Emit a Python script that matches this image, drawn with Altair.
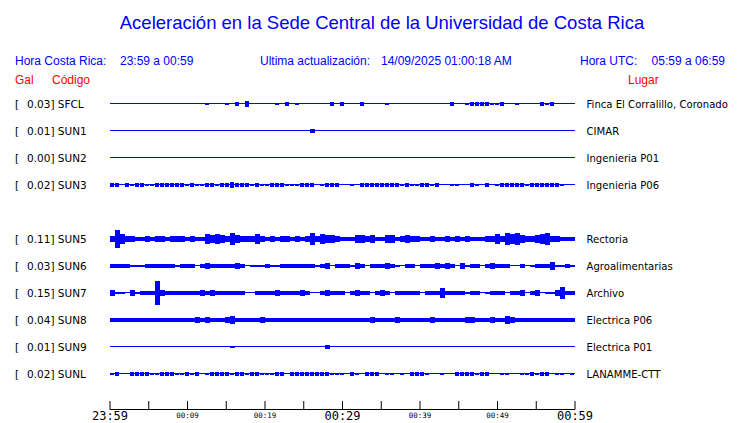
import altair as alt
import pandas as pd

# ---------------- data ----------------
stations = ["SFCL", "SUN1", "SUN2", "SUN3", "SUN5", "SUN6", "SUN7", "SUN8", "SUN9", "SUNL"]
gal = ["0.03", "0.01", "0.00", "0.02", "0.11", "0.03", "0.15", "0.04", "0.01", "0.02"]
places = ["Finca El Corralillo, Coronado", "CIMAR", "Ingenieria P01", "Ingenieria P06",
          "Rectoria", "Agroalimentarias", "Archivo", "Electrica P06", "Electrica P01", "LANAMME-CTT"]
row_index = [0, 1, 2, 3, 5, 6, 7, 8, 9, 10]

# envelope of each trace (93 time bins over 60 minutes), amplitude levels
env_SFCL = ([0,0,0,0,0,0,0,0,0,0, 0,0,0,0,0,0,0,0,0,1, 0,0,0,1,0,2,0,3,0,0, 0] +
            [0,0,1,0,2,0,1,0,0,0, 0,0,0,2,0,2,0,0,0,2, 0,0,0,0,1,0,0,0,0,0, 0] +
            [0,0,0,0,0,0,2,0,0,1, 2,2,2,2,1,1,2,0,0,1, 0,0,0,0,2,1,2,0,0,0, 0])
env_SUN1 = ([0]*31 +
            [0,0,0,0,0,0,0,0,0,2, 0,0,0,0,0,0,0,0,0,0, 0,0,0,0,0,0,0,0,0,0, 0] +
            [0]*31)
env_SUN2 = [0]*93
env_SUN3 = ([2,2,0,2,1,2,2,1,1,2, 2,2,2,2,2,1,2,1,1,2, 2,1,2,2,3,2,2,2,1,2, 1] +
            [1,2,2,2,1,1,1,2,2,2, 0,1,2,2,2,0,0,1,0,2, 2,2,2,2,2,2,2,1,2,1, 1] +
            [2,2,1,2,0,0,1,1,0,0, 2,1,0,2,0,1,2,2,2,2, 2,1,2,2,2,2,2,2,1,0, 0])
env_SUN5 = ([3,9,5,3,3,2,2,3,2,3, 3,2,3,3,3,2,3,2,2,5, 4,5,4,3,6,4,3,3,3,5, 3] +
            [2,3,2,3,3,2,3,2,3,6, 3,5,4,4,3,2,2,2,4,4, 3,4,2,2,4,4,2,3,4,3, 3] +
            [2,2,3,2,2,3,2,3,2,3, 2,2,2,3,3,5,3,6,5,6, 4,3,3,4,5,6,3,3,2,2, 2])
env_SUN6 = ([2,2,2,2,1,1,1,2,2,2, 2,2,2,1,2,2,2,0,2,3, 2,2,2,2,2,3,2,0,1,1, 1] +
            [2,1,1,2,2,2,2,2,2,2, 1,2,3,0,2,2,2,1,3,2, 0,2,2,2,3,2,1,0,2,2, 0] +
            [2,2,2,3,2,3,2,0,3,1, 2,2,0,2,3,2,2,2,0,0, 2,0,1,2,2,2,4,1,1,2, 1])
env_SUN7 = ([3,1,1,0,3,1,2,2,2,12, 3,2,2,2,2,2,2,2,3,2, 3,2,2,2,2,2,2,0,0,2, 2] +
            [2,2,3,2,2,2,2,3,2,0, 0,2,3,2,2,2,0,2,3,2, 2,0,2,3,2,0,2,2,2,2, 2] +
            [0,2,2,2,5,2,2,2,2,1, 2,2,0,1,2,2,2,0,2,2, 3,0,2,3,0,1,1,3,6,2, 2])
env_SUN8 = ([2,2,2,2,2,2,2,2,2,2, 2,2,2,2,2,2,2,3,2,3, 2,2,2,3,4,2,2,2,2,2, 3] +
            [2,2,2,2,2,2,2,2,2,2, 2,2,2,2,2,2,2,2,2,2, 2,3,2,2,2,2,3,2,2,2, 2] +
            [2,2,3,2,2,2,2,2,2,3, 3,2,2,2,3,2,2,4,3,2, 2,2,2,2,2,2,2,2,2,2, 2])
env_SUN9 = ([0,0,0,0,0,0,0,0,0,0, 0,0,0,0,0,0,0,0,0,0, 0,0,0,0,1,0,0,0,0,0, 0] +
            [0,0,0,0,0,0,0,0,0,0, 0,0,2,0,0,0,0,0,0,0, 0,0,0,0,0,0,0,0,0,0, 0] +
            [0]*31)
env_SUNL = ([1,2,0,0,2,2,2,2,1,1, 2,2,2,1,1,2,1,2,0,1, 2,2,2,2,1,2,2,1,2,2, 1] +
            [1,1,2,2,0,2,2,2,2,2, 2,2,2,1,1,1,0,2,1,0, 2,2,2,0,1,1,0,1,0,2, 2] +
            [2,1,0,0,1,0,0,2,2,2, 2,1,2,2,0,0,1,1,0,0, 1,1,2,1,2,2,0,1,1,0, 1])
envelopes = [env_SFCL, env_SUN1, env_SUN2, env_SUN3, env_SUN5,
             env_SUN6, env_SUN7, env_SUN8, env_SUN9, env_SUNL]

tick_minutes = [0, 5, 10, 15, 20, 25, 30, 35, 40, 45, 50, 55, 60]
major_minutes = [0, 30, 60]
major_labels = ["23:59", "00:29", "00:59"]
minor_minutes = [10, 20, 40, 50]
minor_labels = ["00:09", "00:19", "00:39", "00:49"]

# ---------------- layout / style ----------------
N_BINS = 93
SPAN_MIN = 60
ROW_GAP = 27
BLUE = "#0000ff"
RED = "#ff0000"
# fraction of each time bin that a burst block fills
fill_fraction = [0.8, 1.0, 1.0, 0.8, 1.0, 1.0, 1.0, 1.0, 1.0, 0.8]

xs = alt.Scale(domain=[0, SPAN_MIN], range=[102, 567], nice=False, zero=False)
ys = alt.Scale(domain=[0, 10 * ROW_GAP], range=[95.5, 365.5], nice=False, zero=False)

bins = []
bin_min = SPAN_MIN / N_BINS
for st, r, env, ff in zip(stations, row_index, envelopes, fill_fraction):
    assert len(env) == N_BINS
    for i, a in enumerate(env):
        if a > 0:
            bins.append({"station": st,
                         "t0": i * bin_min,
                         "t1": (i + ff) * bin_min,
                         "lo": r * ROW_GAP - a + 0.5,
                         "hi": r * ROW_GAP + a + 0.5})
bins_df = pd.DataFrame(bins)

rows_df = pd.DataFrame({
    "station": stations,
    "pos": [r * ROW_GAP for r in row_index],
    "left": [f"{g}] {s}" for g, s in zip(gal, stations)],
    "place": places,
    "t0": [0] * len(stations),
    "t1": [SPAN_MIN] * len(stations),
})

baselines = alt.Chart(rows_df).mark_rule(color=BLUE, strokeWidth=1).encode(
    x=alt.X("t0:Q", scale=xs, axis=None),
    x2="t1:Q",
    y=alt.Y("pos:Q", scale=ys, axis=None),
)

traces = alt.Chart(bins_df).mark_rect(color=BLUE).encode(
    x=alt.X("t0:Q", scale=xs, axis=None),
    x2="t1:Q",
    y=alt.Y("lo:Q", scale=ys, axis=None),
    y2="hi:Q",
)

label_font = "DejaVu Sans"
brackets = alt.Chart(rows_df).mark_text(
    text="[", align="left", baseline="alphabetic", dy=4, font=label_font,
    fontSize=10.5, color="black").encode(
    x=alt.value(7), y=alt.Y("pos:Q", scale=ys, axis=None))
left_labels = alt.Chart(rows_df).mark_text(
    align="left", baseline="alphabetic", dy=4, font=label_font,
    fontSize=10.5, color="black").encode(
    x=alt.value(19), y=alt.Y("pos:Q", scale=ys, axis=None), text="left:N")
right_labels = alt.Chart(rows_df).mark_text(
    align="left", baseline="alphabetic", dy=4, font=label_font,
    fontSize=10.1, color="black").encode(
    x=alt.value(578.5), y=alt.Y("pos:Q", scale=ys, axis=None), text="place:N")

# time axis
axis_span = pd.DataFrame({"t0": [0], "t1": [SPAN_MIN]})
axis_line = alt.Chart(axis_span).mark_rule(color="black", strokeWidth=1).encode(
    x=alt.X("t0:Q", scale=xs, axis=None), x2="t1:Q", y=alt.value(401.5))
ticks = alt.Chart(pd.DataFrame({"m": tick_minutes})).mark_rule(color="black", strokeWidth=1).encode(
    x=alt.X("m:Q", scale=xs, axis=None), y=alt.value(393), y2=alt.value(401.5))
major = alt.Chart(pd.DataFrame({"m": major_minutes, "lab": major_labels})).mark_text(
    font="DejaVu Sans Mono", fontSize=12, baseline="alphabetic", align="center", color="black").encode(
    x=alt.X("m:Q", scale=xs, axis=None), y=alt.value(411.5), text="lab:N")
minor = alt.Chart(pd.DataFrame({"m": minor_minutes, "lab": minor_labels})).mark_text(
    font="DejaVu Sans Mono", fontSize=7.5, baseline="alphabetic", align="center", color="black").encode(
    x=alt.X("m:Q", scale=xs, axis=None), y=alt.value(409.5), text="lab:N")

one = pd.DataFrame({"k": [0]})


def label(txt, x, y, color=BLUE, size=12, align="left", font="Liberation Sans"):
    return alt.Chart(one).mark_text(
        text=txt, align=align, baseline="alphabetic", font=font,
        fontSize=size, color=color).encode(x=alt.value(x), y=alt.value(y))


headers = [
    label("Aceleración en la Sede Central de la Universidad de Costa Rica", 374, 21,
          size=18.5, align="center"),
    label("Hora Costa Rica:", 7, 57),
    label("23:59 a 00:59", 112, 57),
    label("Ultima actualización:", 252, 57),
    label("14/09/2025 01:00:18 AM", 373, 57),
    label("Hora UTC:", 572, 57),
    label("05:59 a 06:59", 717, 57, align="right"),
    label("Gal", 7, 76, color=RED),
    label("Código", 44, 76, color=RED),
    label("Lugar", 620, 76, color=RED),
]

chart = alt.layer(
    baselines, traces, brackets, left_labels, right_labels,
    axis_line, ticks, major, minor, *headers
).properties(
    width=724, height=415,
    autosize=alt.AutoSizeParams(type="none"),
    padding=0,
    background="white",
).configure_view(stroke=None)

chart.save("out.html", embed_options={"renderer": "svg", "actions": False})
